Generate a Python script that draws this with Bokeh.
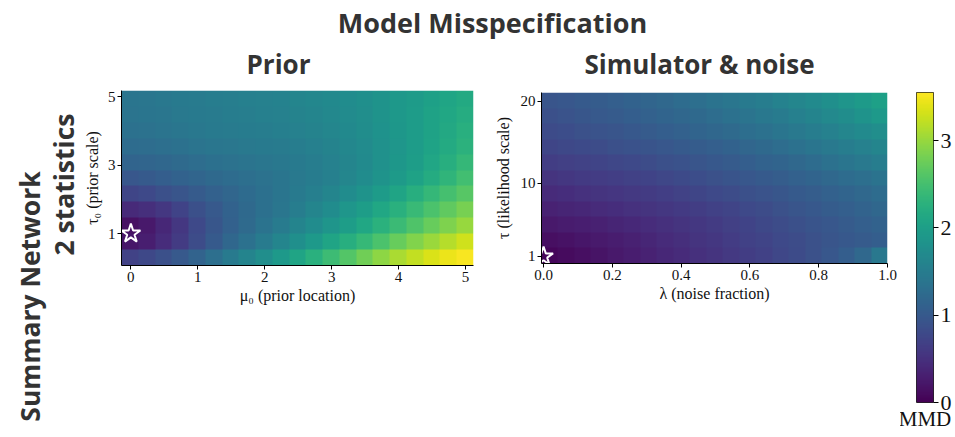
import numpy as np
from bokeh.plotting import figure
from bokeh.layouts import column, row
from bokeh.models import Range1d, LinearColorMapper, FixedTicker, Title
from bokeh.palettes import Viridis256
from bokeh.core.properties import value
from bokeh.embed import file_html
from bokeh.resources import INLINE

# ---------------- data ----------------
main_title = "Model Misspecification"
panel_titles = ["Prior", "Simulator & noise"]
row_labels = ["Summary Network", "2 statistics"]

# Prior panel: MMD on a grid of mu0 (21 columns) x tau0 (11 rows, bottom -> top)
prior_mu0_extent = [-0.14, 5.12]
prior_tau0_extent = [0.066, 5.18]
prior_mmd = [
    [0.70, 0.77, 0.87, 0.99, 1.13, 1.29, 1.45, 1.60, 1.75, 1.90, 2.07, 2.25, 2.43, 2.60, 2.78, 2.95, 3.10, 3.23, 3.35, 3.45, 3.52],
    [0.22, 0.30, 0.45, 0.62, 0.82, 1.00, 1.18, 1.33, 1.48, 1.62, 1.77, 1.92, 2.07, 2.22, 2.38, 2.55, 2.72, 2.88, 3.02, 3.16, 3.30],
    [0.16, 0.24, 0.40, 0.58, 0.78, 0.95, 1.10, 1.23, 1.35, 1.47, 1.60, 1.72, 1.85, 1.98, 2.12, 2.27, 2.42, 2.57, 2.72, 2.86, 3.00],
    [0.42, 0.48, 0.58, 0.72, 0.86, 0.99, 1.11, 1.21, 1.31, 1.40, 1.50, 1.61, 1.73, 1.86, 1.98, 2.12, 2.26, 2.40, 2.54, 2.68, 2.82],
    [0.74, 0.79, 0.86, 0.94, 1.02, 1.10, 1.17, 1.24, 1.31, 1.38, 1.45, 1.53, 1.62, 1.72, 1.83, 1.95, 2.08, 2.22, 2.36, 2.50, 2.63],
    [0.97, 1.01, 1.06, 1.11, 1.16, 1.21, 1.26, 1.30, 1.34, 1.38, 1.43, 1.49, 1.55, 1.63, 1.72, 1.82, 1.93, 2.05, 2.18, 2.32, 2.47],
    [1.14, 1.16, 1.19, 1.23, 1.27, 1.31, 1.34, 1.37, 1.40, 1.42, 1.46, 1.50, 1.56, 1.62, 1.70, 1.79, 1.88, 1.98, 2.10, 2.23, 2.37],
    [1.25, 1.27, 1.30, 1.33, 1.36, 1.39, 1.41, 1.43, 1.46, 1.48, 1.51, 1.55, 1.59, 1.65, 1.71, 1.79, 1.87, 1.96, 2.06, 2.17, 2.28],
    [1.32, 1.34, 1.36, 1.39, 1.42, 1.45, 1.47, 1.49, 1.51, 1.53, 1.56, 1.59, 1.63, 1.68, 1.74, 1.81, 1.88, 1.96, 2.05, 2.14, 2.24],
    [1.36, 1.38, 1.40, 1.43, 1.46, 1.48, 1.50, 1.52, 1.54, 1.56, 1.59, 1.62, 1.66, 1.71, 1.76, 1.82, 1.89, 1.96, 2.04, 2.12, 2.20],
    [1.38, 1.40, 1.42, 1.45, 1.48, 1.50, 1.52, 1.54, 1.56, 1.58, 1.61, 1.64, 1.68, 1.72, 1.77, 1.83, 1.89, 1.95, 2.02, 2.09, 2.16],
]
prior_x_ticks = [0, 1, 2, 3, 4, 5]
prior_y_ticks = [1, 3, 5]
prior_true = {"mu0": [0.0], "tau0": [1.0]}

# Simulator & noise panel: MMD on a grid of lambda (21 columns) x tau (11 rows, bottom -> top)
noise_lambda_extent = [-0.006, 1.0]
noise_tau_extent = [0.14, 21.1]
noise_mmd = [
    [0.06, 0.10, 0.14, 0.19, 0.24, 0.29, 0.34, 0.39, 0.44, 0.49, 0.54, 0.59, 0.64, 0.69, 0.75, 0.81, 0.88, 0.96, 1.06, 1.20, 1.42],
    [0.14, 0.17, 0.21, 0.25, 0.29, 0.33, 0.38, 0.43, 0.48, 0.53, 0.58, 0.63, 0.68, 0.73, 0.78, 0.83, 0.88, 0.93, 0.98, 1.02, 1.06],
    [0.24, 0.27, 0.30, 0.33, 0.37, 0.41, 0.45, 0.49, 0.53, 0.57, 0.62, 0.67, 0.72, 0.77, 0.82, 0.87, 0.92, 0.97, 1.02, 1.07, 1.11],
    [0.34, 0.37, 0.40, 0.43, 0.46, 0.50, 0.53, 0.57, 0.60, 0.64, 0.68, 0.73, 0.78, 0.83, 0.88, 0.93, 0.98, 1.03, 1.08, 1.13, 1.18],
    [0.44, 0.47, 0.50, 0.53, 0.56, 0.59, 0.62, 0.66, 0.70, 0.74, 0.78, 0.82, 0.86, 0.91, 0.95, 1.00, 1.05, 1.10, 1.15, 1.20, 1.25],
    [0.54, 0.57, 0.60, 0.63, 0.66, 0.69, 0.72, 0.76, 0.80, 0.84, 0.88, 0.92, 0.96, 1.01, 1.05, 1.10, 1.15, 1.20, 1.25, 1.30, 1.35],
    [0.64, 0.67, 0.70, 0.73, 0.76, 0.79, 0.82, 0.86, 0.90, 0.94, 0.98, 1.02, 1.06, 1.11, 1.15, 1.20, 1.26, 1.32, 1.38, 1.44, 1.50],
    [0.74, 0.77, 0.80, 0.83, 0.86, 0.89, 0.92, 0.96, 1.00, 1.04, 1.08, 1.12, 1.17, 1.22, 1.27, 1.32, 1.38, 1.44, 1.50, 1.56, 1.62],
    [0.81, 0.84, 0.88, 0.91, 0.94, 0.98, 1.02, 1.06, 1.10, 1.14, 1.18, 1.23, 1.28, 1.33, 1.38, 1.44, 1.50, 1.56, 1.63, 1.70, 1.76],
    [0.87, 0.91, 0.95, 0.99, 1.02, 1.06, 1.10, 1.14, 1.18, 1.22, 1.27, 1.32, 1.37, 1.42, 1.48, 1.54, 1.60, 1.67, 1.74, 1.82, 1.90],
    [0.94, 0.97, 1.00, 1.04, 1.08, 1.12, 1.16, 1.20, 1.25, 1.30, 1.35, 1.40, 1.45, 1.51, 1.57, 1.63, 1.70, 1.77, 1.85, 1.93, 2.02],
]
noise_x_ticks = [0.0, 0.2, 0.4, 0.6, 0.8, 1.0]
noise_y_ticks = [1, 10, 20]
noise_true = {"lam": [0.0], "tau": [1.0]}

mmd_max = 3.55
cbar_ticks = [0, 1, 2, 3]
cbar_label = "MMD"

# ---------------- styling ----------------
SERIF = "Liberation Serif"
SANS = "Open Sans"
TXT = "#333333"
mapper = LinearColorMapper(palette=Viridis256, low=0, high=mmd_max)

W, H = 955, 437
TOP_H = 86
ROW_H = H - TOP_H


def no_align(p):
    try:
        p.frame_align = False
    except Exception:
        pass


def style_axes(p, xticks, yticks, xlabel, ylabel, als_y):
    p.outline_line_color = None
    p.grid.visible = False
    p.xaxis.ticker = FixedTicker(ticks=xticks)
    p.yaxis.ticker = FixedTicker(ticks=yticks)
    p.xaxis.axis_label = xlabel
    p.yaxis.axis_label = ylabel
    for ax in (p.xaxis[0], p.yaxis[0]):
        ax.axis_line_color = "black"
        ax.axis_line_width = 1
        ax.major_tick_line_color = "black"
        ax.major_tick_out = 4
        ax.major_tick_in = 0
        ax.minor_tick_line_color = None
        ax.major_label_text_font = SERIF
        ax.major_label_text_font_size = "15px"
        ax.major_label_text_color = "#111111"
        ax.major_label_standoff = 2
        ax.axis_label_text_font = SERIF
        ax.axis_label_text_font_size = "16px"
        ax.axis_label_text_font_style = "normal"
        ax.axis_label_text_color = "#111111"
    p.xaxis.axis_label_standoff = 2
    p.yaxis.axis_label_standoff = als_y


# ---------------- top titles ----------------
top = figure(width=W, height=TOP_H, x_range=Range1d(0, W), y_range=Range1d(TOP_H, 0),
             output_backend="svg", toolbar_location=None, min_border=0, title=None)
top.axis.visible = False
top.grid.visible = False
top.outline_line_color = None
top.text(x=[492], y=[22], text=[main_title], text_font=value(SANS), text_font_style="bold",
         text_font_size="27px", text_color=TXT, text_align="center", text_baseline="middle")
top.text(x=[278, 699], y=[63, 63], text=panel_titles, text_font=value(SANS), text_font_style="bold",
         text_font_size="26px", text_color=TXT, text_align="center", text_baseline="middle")
no_align(top)

# ---------------- row labels ----------------
lab = figure(width=80, height=ROW_H, x_range=Range1d(0, 80), y_range=Range1d(ROW_H, 0),
             output_backend="svg", toolbar_location=None, min_border=0, title=None)
lab.axis.visible = False
lab.grid.visible = False
lab.outline_line_color = None
lab.text(x=[29, 63], y=[296 - TOP_H, 184 - TOP_H], text=row_labels, angle=np.pi / 2,
         text_font=value(SANS), text_font_style="bold", text_font_size="26.5px", text_color=TXT,
         text_align="center", text_baseline="middle", text_line_height=1.0)
no_align(lab)

# ---------------- prior panel ----------------
p1 = figure(width=410, height=ROW_H, title=None,
            x_range=Range1d(*prior_mu0_extent), y_range=Range1d(*prior_tau0_extent),
            output_backend="svg", toolbar_location=None,
            min_border_left=37, min_border_right=17, min_border_top=90 - TOP_H,
            min_border_bottom=H - 265)
p1.image(image=[np.array(prior_mmd)], x=prior_mu0_extent[0], y=prior_tau0_extent[0],
         dw=prior_mu0_extent[1] - prior_mu0_extent[0],
         dh=prior_tau0_extent[1] - prior_tau0_extent[0], color_mapper=mapper)
p1.scatter(x=prior_true["mu0"], y=prior_true["tau0"], marker="star", size=20,
           fill_color=None, line_color="white", line_width=2)
style_axes(p1, prior_x_ticks, prior_y_ticks, "μ₀ (prior location)", "τ₀ (prior scale)", 4)
no_align(p1)

# ---------------- simulator panel ----------------
p2 = figure(width=410, height=ROW_H, title=None,
            x_range=Range1d(*noise_lambda_extent), y_range=Range1d(*noise_tau_extent),
            output_backend="svg", toolbar_location=None,
            min_border_left=51, min_border_right=13, min_border_top=92 - TOP_H,
            min_border_bottom=H - 263)
p2.image(image=[np.array(noise_mmd)], x=noise_lambda_extent[0], y=noise_tau_extent[0],
         dw=noise_lambda_extent[1] - noise_lambda_extent[0],
         dh=noise_tau_extent[1] - noise_tau_extent[0], color_mapper=mapper)
p2.scatter(x=noise_true["lam"], y=noise_true["tau"], marker="star", size=20,
           fill_color=None, line_color="white", line_width=2)
style_axes(p2, noise_x_ticks, noise_y_ticks, "λ (noise fraction)", "τ (likelihood scale)", 6)
p2.xaxis[0].major_label_overrides = {0.0: "0.0", 1.0: "1.0"}
no_align(p2)

# ---------------- colour bar ----------------
cb = figure(width=55, height=ROW_H, x_range=Range1d(0, 1), y_range=Range1d(0, mmd_max),
            output_backend="svg", toolbar_location=None, y_axis_location="right", title=None,
            min_border_left=16, min_border_right=22, min_border_top=92 - TOP_H,
            min_border_bottom=H - 402)
scale = np.linspace(0, mmd_max, 256).reshape(-1, 1)
cb.image(image=[scale], x=0, y=0, dw=1, dh=mmd_max, color_mapper=mapper)
cb.grid.visible = False
cb.xaxis.visible = False
cb.outline_line_color = "#222222"
cb.outline_line_width = 1
ya = cb.yaxis[0]
ya.ticker = FixedTicker(ticks=cbar_ticks)
ya.axis_line_color = None
ya.major_tick_out = 5
ya.major_tick_in = 0
ya.minor_tick_line_color = None
ya.major_label_text_font = SERIF
ya.major_label_text_font_size = "22px"
ya.major_label_text_color = "#111111"
ya.major_label_standoff = 2
cb.add_layout(Title(text=cbar_label, align="center", text_font=SERIF, text_font_size="21px",
                    text_font_style="normal", text_color="#111111", offset=0, standoff=4), "below")
no_align(cb)

layout = column(top, row(lab, p1, p2, cb, spacing=0), spacing=0)

with open("out.html", "w") as f:
    f.write(file_html(layout, INLINE))
